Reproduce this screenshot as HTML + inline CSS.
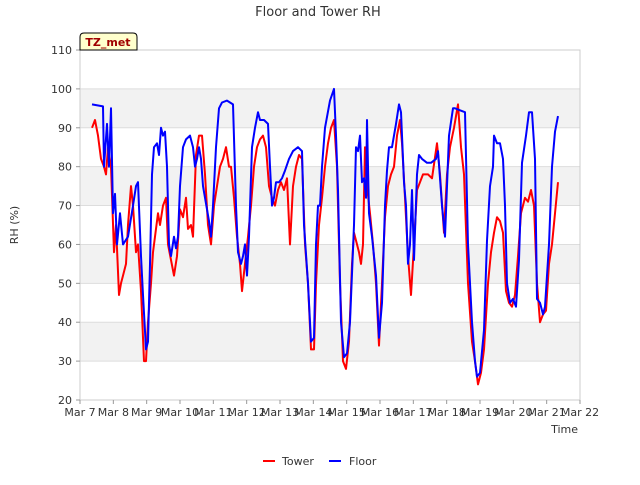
<!DOCTYPE html>
<html><head><meta charset="utf-8"><style>
body{margin:0;background:#fff;font-family:"Liberation Sans","DejaVu Sans",sans-serif}
svg text{font-family:"DejaVu Sans","Liberation Sans",sans-serif}
</style></head><body>
<svg id="chart" width="640" height="480" viewBox="0 0 640 480" xmlns="http://www.w3.org/2000/svg">
<rect width="640" height="480" fill="#fff"/>
<text x="318" y="16" text-anchor="middle" font-size="13" fill="#333">Floor and Tower RH</text>
<g id="bands"></g>
<g id="grid"></g>
<rect x="80" y="50" width="500" height="350" fill="none" stroke="#ccc"/>
<g id="yticks"></g>
<g id="xticks"></g>
<g id="series"></g>
<text transform="translate(18,225) rotate(-90)" text-anchor="middle" font-size="11" fill="#333">RH (%)</text>
<text x="578" y="433" text-anchor="end" font-size="11" fill="#333">Time</text>
<g>
<path d="M80,50 L80,37 Q80,33 84,33 L133,33 Q137,33 137,37 L137,50 Z" fill="#ffffcc" stroke="#000"/>
<text x="108" y="46" text-anchor="middle" font-size="11" font-weight="bold" fill="#a00000">TZ_met</text>
</g>
<g>
<line x1="263" y1="461" x2="275" y2="461" stroke="#ff0000" stroke-width="2"/>
<text x="282" y="465" font-size="11" fill="#333">Tower</text>
<line x1="329" y1="461" x2="341" y2="461" stroke="#0000ff" stroke-width="2"/>
<text x="349" y="465" font-size="11" fill="#333">Floor</text>
</g>
</svg>
<script>
const yTicks=[20,30,40,50,60,70,80,90,100,110];
const xTickLabels=["Mar 7","Mar 8","Mar 9","Mar 10","Mar 11","Mar 12","Mar 13","Mar 14","Mar 15","Mar 16","Mar 17","Mar 18","Mar 19","Mar 20","Mar 21","Mar 22"];
const floorDays=[0.36,0.69,0.72,0.81,0.87,0.93,0.99,1.05,1.11,1.2,1.29,1.44,1.59,1.68,1.74,1.83,1.89,1.98,2.04,2.1,2.16,2.22,2.31,2.37,2.43,2.49,2.55,2.61,2.67,2.73,2.82,2.88,2.94,3.0,3.09,3.18,3.3,3.39,3.45,3.51,3.57,3.63,3.69,3.87,3.93,3.99,4.08,4.17,4.26,4.41,4.59,4.68,4.74,4.83,4.89,4.95,5.01,5.07,5.16,5.25,5.34,5.4,5.52,5.64,5.7,5.76,5.82,5.88,5.97,6.06,6.15,6.27,6.39,6.54,6.66,6.72,6.84,6.93,7.02,7.08,7.14,7.2,7.26,7.35,7.5,7.62,7.68,7.74,7.83,7.92,8.01,8.1,8.22,8.28,8.34,8.4,8.46,8.52,8.58,8.61,8.67,8.76,8.88,8.97,9.06,9.15,9.21,9.27,9.36,9.48,9.57,9.63,9.72,9.78,9.84,9.9,9.96,10.02,10.11,10.17,10.26,10.41,10.53,10.68,10.74,10.86,10.95,11.07,11.19,11.25,11.4,11.55,11.64,11.76,11.85,11.91,12.0,12.12,12.21,12.3,12.39,12.42,12.51,12.6,12.69,12.75,12.81,12.9,12.99,13.08,13.17,13.26,13.38,13.47,13.56,13.65,13.71,13.8,13.89,13.95,14.07,14.16,14.25,14.34];
const floorRH=[96,95.5,80,91,80,95,68,73,60,68,60,62,70,75,76,57,47,33,35,55,78,85,86,83,90,88,89,80,60,57,62,59,62,75,85,87,88,85,80,82,85,82,75,66,62,70,85,95,96.5,97,96,70,58,55,57,60,52,62,85,90,94,92,92,91,80,70,72,76,76,77,79,82,84,85,84,65,50,35,36,60,70,70,80,90,97,100,88,74,40,31,32,40,65,85,84,88,76,77,72,92,68,62,52,36,45,70,79,85,85,91,96,94,76,70,55,60,74,56,78,83,82,81,81,82,84,70,62,88,95,95,94.5,94,60,40,30,26,27,38,61,75,80,88,86,86,82,70,50,45,46,44,56,81,88,94,94,82,46,45,42,44,60,80,89,93];
const towerDays=[0.36,0.45,0.54,0.63,0.72,0.78,0.84,0.93,1.02,1.08,1.17,1.23,1.29,1.38,1.44,1.53,1.59,1.68,1.74,1.83,1.92,1.98,2.04,2.13,2.19,2.28,2.34,2.4,2.49,2.58,2.64,2.73,2.82,2.91,3.0,3.09,3.18,3.24,3.33,3.39,3.48,3.57,3.66,3.75,3.84,3.93,4.02,4.11,4.2,4.29,4.38,4.47,4.53,4.62,4.71,4.8,4.86,4.95,5.04,5.13,5.22,5.31,5.4,5.49,5.58,5.67,5.76,5.85,5.94,6.03,6.12,6.21,6.3,6.39,6.48,6.57,6.66,6.75,6.84,6.93,7.02,7.08,7.17,7.26,7.35,7.44,7.53,7.62,7.71,7.8,7.89,7.98,8.07,8.16,8.22,8.31,8.37,8.43,8.49,8.55,8.61,8.7,8.79,8.88,8.97,9.06,9.15,9.24,9.33,9.42,9.51,9.6,9.66,9.75,9.84,9.93,10.02,10.11,10.2,10.29,10.44,10.56,10.71,10.8,10.92,11.01,11.1,11.22,11.34,11.43,11.52,11.64,11.76,11.85,11.94,12.03,12.12,12.24,12.33,12.42,12.51,12.6,12.69,12.78,12.87,12.96,13.05,13.14,13.23,13.35,13.44,13.53,13.62,13.71,13.8,13.89,13.98,14.07,14.16,14.25,14.34];
const towerRH=[90,92,88,82,80,78,85,80,58,65,47,50,52,55,65,75,70,58,60,48,30,30,40,50,58,64,68,65,70,72,60,56,52,57,69,67,72,64,65,62,83,88,88,78,65,60,70,75,80,82,85,80,80,72,62,55,48,55,62,70,80,85,87,88,85,75,72,70,74,76,74,77,60,75,80,83,82,60,50,33,33,50,65,72,80,86,90,92,80,50,30,28,35,55,63,60,58,55,60,85,75,68,60,50,34,50,67,75,78,80,88,92,86,72,57,47,60,74,76,78,78,77,86,78,63,78,85,90,96,85,78,50,35,30,24,27,33,50,58,63,67,66,63,48,45,44,47,57,68,72,71,74,70,50,40,42,43,55,60,68,76];

const NS='http://www.w3.org/2000/svg';
const X0=80,X1=580,Y0=400,Y1=50,DMAX=15,VMIN=20,VMAX=110;
function xs(d){return X0+(X1-X0)*d/DMAX;}
function ys(v){return Y0-(Y0-Y1)*(v-VMIN)/(VMAX-VMIN);}
function mk(tag,attrs,parent){const e=document.createElementNS(NS,tag);for(const k in attrs)e.setAttribute(k,attrs[k]);parent.appendChild(e);return e;}
const bands=document.getElementById('bands'),grid=document.getElementById('grid'),yt=document.getElementById('yticks'),xt=document.getElementById('xticks'),ser=document.getElementById('series');
for(let i=0;i<yTicks.length-1;i++){
  if(i%2===1){const b=mk('rect',{x:X0,y:ys(yTicks[i+1]),width:X1-X0,height:ys(yTicks[i])-ys(yTicks[i+1]),fill:'#f2f2f2'},bands);
  
  }
}
yTicks.forEach(v=>{
  const l=mk('line',{x1:X0,x2:X1,y1:ys(v),y2:ys(v),stroke:'#ddd'},grid);
  
  
  const t=mk('line',{x1:X0-4,x2:X0,y1:ys(v),y2:ys(v),stroke:'#999'},yt);
  
  
  const tx=mk('text',{x:X0-8,y:ys(v)+4,'text-anchor':'end','font-size':'11',fill:'#333'},yt);
  tx.textContent=v;
  
  
});
xTickLabels.forEach((lab,i)=>{
  const t=mk('line',{x1:xs(i),x2:xs(i),y1:Y0,y2:Y0+4,stroke:'#999'},xt);
  
  
  const tx=mk('text',{x:xs(i),y:Y0+16,'text-anchor':'middle','font-size':'11',fill:'#333'},xt);
  tx.textContent=lab;
  
  
});
function line(days,vals,color,name){
  const d=days.map((t,i)=>(i?'L':'M')+xs(t).toFixed(1)+','+ys(vals[i]).toFixed(1)).join('');
  const p=mk('path',{d:d,fill:'none',stroke:color,'stroke-width':'2','stroke-linejoin':'round'},ser);
  
  
}
line(towerDays,towerRH,'#ff0000','tower-line');
line(floorDays,floorRH,'#0000ff','floor-line');
</script>
</body></html>
